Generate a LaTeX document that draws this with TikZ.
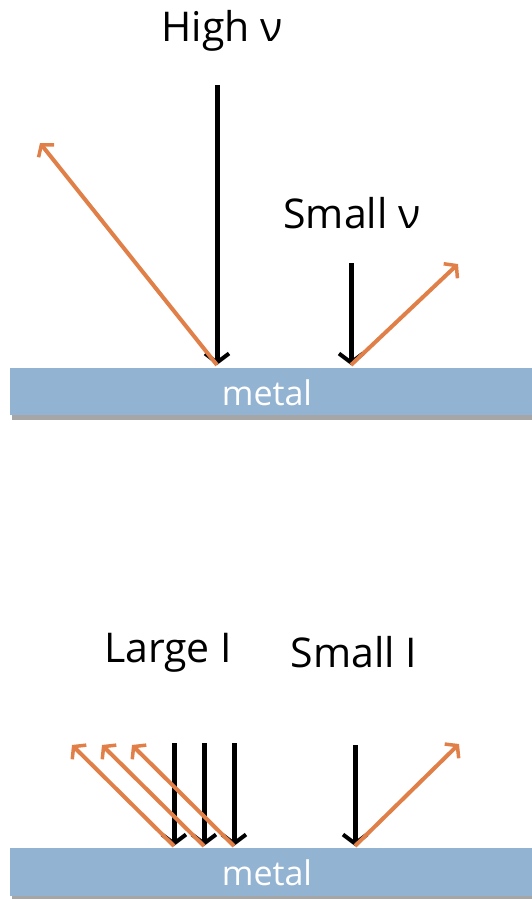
\documentclass[tikz,border=0pt]{standalone}
\usepackage{fontspec}
\setmainfont{Open Sans}
\usetikzlibrary{arrows.meta,positioning}
\definecolor{metalblue}{RGB}{147,179,210}
\definecolor{photoorange}{RGB}{224,128,72}

\begin{document}
\begin{tikzpicture}[x=1pt,y=-1pt,
  light/.style={line width=5pt,-{Straight Barb[length=9pt,width=24pt,line width=4pt]}},
  electron/.style={photoorange,line width=4pt,-{Straight Barb[length=8pt,width=20pt,line width=3.5pt]}},
  barlabel/.style={text=white,font=\fontsize{34}{40}\selectfont,inner sep=0pt,anchor=base},
  biglabel/.style={font=\fontsize{41}{48}\selectfont,inner sep=0pt,anchor=base}]
  \useasboundingbox (0,0) rectangle (532,899);

  % frequency: high and small
  \fill[gray!70] (12,372) rectangle (532,420);
  \fill[metalblue] (10,368) rectangle (532,415);
  \node[barlabel] (metalA) at (267,405) {metal};
  \node[biglabel] (high) at (222,42) {High ν};
  \node[biglabel] (smallnu) at (352,228) {Small ν};
  \coordinate (hitHigh) at (217,365);
  \coordinate (hitSmall) at (351,365);
  \draw[light] (217,85) -- (hitHigh);
  \draw[light] (351,263) -- (hitSmall);
  \draw[electron] (hitHigh) -- (40,143);
  \draw[electron] (hitSmall) -- (458,264);

  % intensity: large and small
  \fill[gray!70] (12,852) rectangle (532,899);
  \fill[metalblue] (10,848) rectangle (532,896);
  \node[barlabel] (metalB) at (267,885) {metal};
  \node[biglabel] (large) at (168,662) {Large I};
  \node[biglabel] (smallI) at (354,667) {Small I};
  \foreach \x/\xtip in {174/72,204/102,234/132} {
    \coordinate (hit\x) at (\x,846);
    \draw[light] (\x,743) -- (hit\x);
    \draw[electron] (hit\x) -- (\xtip,745);
  }
  \coordinate (hitI) at (355,846);
  \draw[light] (355,745) -- (hitI);
  \draw[electron] (hitI) -- (459,744);
\end{tikzpicture}
\end{document}
